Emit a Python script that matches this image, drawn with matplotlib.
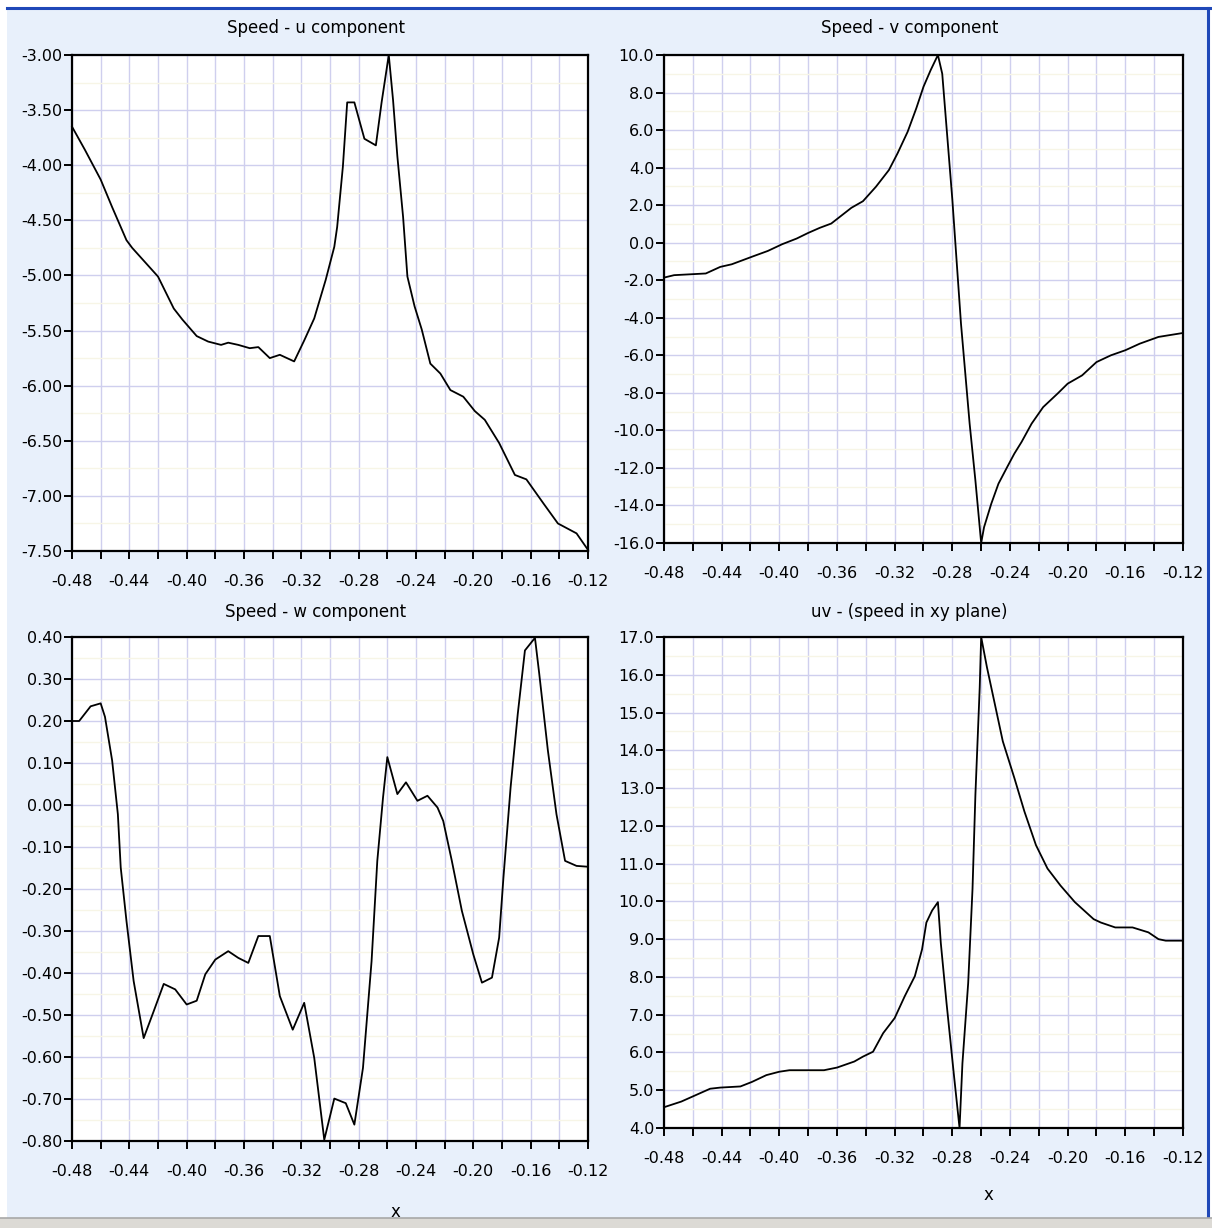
import matplotlib
matplotlib.use("Agg")
import matplotlib.pyplot as plt
from matplotlib.ticker import FixedLocator, FormatStrFormatter
from matplotlib.patches import Rectangle
from matplotlib.lines import Line2D

# ---- data ----
x_ticks = [-0.48, -0.44, -0.40, -0.36, -0.32, -0.28, -0.24, -0.20, -0.16, -0.12]
x_minor = [-0.46, -0.42, -0.38, -0.34, -0.30, -0.26, -0.22, -0.18, -0.14]

x_u = [-0.480, -0.471, -0.460, -0.452, -0.442, -0.438, -0.429, -0.420, -0.409, -0.403,
       -0.393, -0.385, -0.376, -0.371, -0.364, -0.356, -0.350, -0.342, -0.335, -0.325,
       -0.318, -0.311, -0.303, -0.297, -0.295, -0.291, -0.288, -0.283, -0.276, -0.268,
       -0.264, -0.259, -0.256, -0.253, -0.249, -0.246, -0.241, -0.236, -0.230, -0.223,
       -0.216, -0.207, -0.199, -0.192, -0.182, -0.171, -0.163, -0.151, -0.141, -0.128,
       -0.120]
u_vals = [-3.65, -3.86, -4.13, -4.38, -4.68, -4.75, -4.88, -5.01, -5.30, -5.40,
          -5.55, -5.60, -5.63, -5.61, -5.63, -5.66, -5.65, -5.75, -5.72, -5.78,
          -5.59, -5.39, -5.04, -4.74, -4.56, -4.01, -3.43, -3.43, -3.76, -3.82,
          -3.43, -3.00, -3.41, -3.92, -4.47, -5.01, -5.28, -5.49, -5.80, -5.89,
          -6.04, -6.10, -6.23, -6.31, -6.52, -6.81, -6.85, -7.07, -7.25, -7.34,
          -7.49]

x_v = [-0.480, -0.473, -0.451, -0.441, -0.433, -0.418, -0.408, -0.398, -0.388, -0.380,
       -0.372, -0.364, -0.358, -0.350, -0.342, -0.333, -0.324, -0.318, -0.311, -0.305,
       -0.300, -0.295, -0.290, -0.287, -0.280, -0.274, -0.268, -0.264, -0.260, -0.258,
       -0.253, -0.248, -0.242, -0.237, -0.232, -0.225, -0.217, -0.207, -0.200, -0.190,
       -0.180, -0.170, -0.160, -0.150, -0.137, -0.120]
v_vals = [-1.86, -1.73, -1.64, -1.29, -1.15, -0.72, -0.44, -0.08, 0.22, 0.52,
          0.79, 1.02, 1.38, 1.86, 2.21, 2.98, 3.87, 4.76, 5.91, 7.16,
          8.31, 9.20, 10.00, 9.00, 2.30, -4.31, -9.64, -12.67, -16.00, -15.16,
          -13.91, -12.84, -11.96, -11.24, -10.62, -9.64, -8.76, -8.04, -7.51, -7.07,
          -6.36, -6.00, -5.73, -5.38, -5.02, -4.81]

x_w = [-0.480, -0.475, -0.467, -0.460, -0.457, -0.452, -0.448, -0.446, -0.442, -0.437,
       -0.430, -0.423, -0.416, -0.408, -0.400, -0.393, -0.387, -0.380, -0.371, -0.364,
       -0.357, -0.350, -0.342, -0.335, -0.326, -0.318, -0.311, -0.304, -0.297, -0.289,
       -0.283, -0.277, -0.271, -0.267, -0.263, -0.260, -0.253, -0.247, -0.239, -0.232,
       -0.225, -0.221, -0.215, -0.208, -0.200, -0.194, -0.187, -0.182, -0.179, -0.174,
       -0.169, -0.164, -0.157, -0.154, -0.148, -0.142, -0.136, -0.128, -0.120]
w_vals = [0.200, 0.200, 0.235, 0.242, 0.210, 0.106, -0.022, -0.149, -0.276, -0.419,
          -0.555, -0.491, -0.426, -0.439, -0.475, -0.466, -0.403, -0.368, -0.348, -0.364,
          -0.376, -0.312, -0.312, -0.455, -0.535, -0.471, -0.602, -0.797, -0.699, -0.710,
          -0.761, -0.626, -0.372, -0.133, 0.018, 0.114, 0.026, 0.054, 0.010, 0.022,
          -0.006, -0.038, -0.133, -0.252, -0.356, -0.423, -0.411, -0.316, -0.173, 0.042,
          0.217, 0.368, 0.398, 0.312, 0.130, -0.022, -0.133, -0.145, -0.147]

x_uv = [-0.480, -0.468, -0.458, -0.448, -0.441, -0.427, -0.419, -0.409, -0.400, -0.393,
        -0.369, -0.360, -0.348, -0.342, -0.335, -0.328, -0.320, -0.313, -0.306, -0.301,
        -0.298, -0.294, -0.290, -0.288, -0.284, -0.279, -0.275, -0.273, -0.269, -0.266,
        -0.264, -0.261, -0.260, -0.256, -0.251, -0.245, -0.237, -0.230, -0.222, -0.214,
        -0.205, -0.195, -0.182, -0.177, -0.167, -0.155, -0.144, -0.137, -0.132, -0.120]
uv_vals = [4.55, 4.70, 4.87, 5.04, 5.07, 5.10, 5.22, 5.40, 5.49, 5.53,
           5.53, 5.60, 5.76, 5.89, 6.02, 6.51, 6.91, 7.49, 8.02, 8.73,
           9.44, 9.76, 9.98, 8.90, 7.30, 5.44, 4.00, 5.71, 7.84, 10.33,
           12.82, 15.67, 17.00, 16.20, 15.31, 14.24, 13.27, 12.38, 11.49, 10.87,
           10.42, 9.98, 9.53, 9.44, 9.31, 9.31, 9.18, 9.00, 8.96, 8.96]

u_ticks = [-7.5, -7.0, -6.5, -6.0, -5.5, -5.0, -4.5, -4.0, -3.5, -3.0]
v_ticks = [-16, -14, -12, -10, -8, -6, -4, -2, 0, 2, 4, 6, 8, 10]
w_ticks = [-0.8, -0.7, -0.6, -0.5, -0.4, -0.3, -0.2, -0.1, 0.0, 0.1, 0.2, 0.3, 0.4]
uv_ticks = [4, 5, 6, 7, 8, 9, 10, 11, 12, 13, 14, 15, 16, 17]

titles = ["Speed - u component", "Speed - v component",
          "Speed - w component", "uv - (speed in xy plane)"]

# ---- layout in pixels (left, top, right, bottom) ----
W, H = 1212, 1228
BG = "#e8f0fb"
GRID = "#cfcfee"
FS = 11.5
TFS = 12

panels = [
    (x_u, u_vals, u_ticks, "%.2f", titles[0], (72, 55, 588, 551), False),
    (x_v, v_vals, v_ticks, "%.1f", titles[1], (664, 55, 1183, 543), False),
    (x_w, w_vals, w_ticks, "%.2f", titles[2], (72, 637, 588, 1141), True),
    (x_uv, uv_vals, uv_ticks, "%.1f", titles[3], (664, 637, 1183, 1128), True),
]

fig = plt.figure(figsize=(W / 100, H / 100), dpi=100)
fig.patch.set_facecolor("white")

# window background, border and status strip
fig.add_artist(Rectangle((7 / W, 1 - 1218 / H), 1201 / W, 1209 / H,
                         transform=fig.transFigure, facecolor=BG, edgecolor="none", zorder=0))
fig.add_artist(Line2D([7 / W, 1210 / W], [1 - 8 / H, 1 - 8 / H], transform=fig.transFigure,
                      color="#1f48b8", lw=2.2, zorder=1))
fig.add_artist(Line2D([1208 / W, 1208 / W], [1 - 8 / H, 1 - 1218 / H], transform=fig.transFigure,
                      color="#1f48b8", lw=2.2, zorder=1))
fig.add_artist(Rectangle((0, 0), 1, 10 / H, transform=fig.transFigure,
                         facecolor="#dcdad5", edgecolor="none", zorder=1))
fig.add_artist(Line2D([0, 1], [10 / H, 10 / H], transform=fig.transFigure,
                      color="#a8a8a8", lw=1.2, zorder=1))

for xs, ys, yt, fmt, title, (l, t, r, b), has_xlabel in panels:
    ax = fig.add_axes([l / W, 1 - b / H, (r - l) / W, (b - t) / H])
    ax.set_facecolor("white")
    ax.plot(xs, ys, color="black", lw=1.3, clip_on=False, zorder=3)

    ax.set_xlim(-0.48, -0.12)
    ax.set_ylim(yt[0], yt[-1])

    ax.xaxis.set_major_locator(FixedLocator(x_ticks))
    ax.xaxis.set_minor_locator(FixedLocator(x_minor))
    ax.xaxis.set_major_formatter(FormatStrFormatter("%.2f"))
    ax.yaxis.set_major_locator(FixedLocator(yt))
    ax.yaxis.set_major_formatter(FormatStrFormatter(fmt))
    half = [(a + c) / 2 for a, c in zip(yt[:-1], yt[1:])]
    ax.yaxis.set_minor_locator(FixedLocator(half))

    ax.grid(True, which="both", axis="x", color=GRID, lw=1.0, zorder=0)
    ax.grid(True, which="major", axis="y", color=GRID, lw=1.0, zorder=0)
    ax.grid(True, which="minor", axis="y", color="#f7f5e6", lw=1.0, zorder=0)
    ax.set_axisbelow(True)

    ax.tick_params(axis="x", which="both", direction="out", length=5.5, width=1.4,
                   pad=11, labelsize=FS, colors="black")
    ax.tick_params(axis="y", which="major", direction="out", length=5.5, width=1.4,
                   pad=1.5, labelsize=FS, colors="black")
    ax.tick_params(axis="y", which="minor", length=0)
    for s in ax.spines.values():
        s.set_linewidth(1.6)
        s.set_color("black")

    h = b - t
    ax.text(0.5 - 14 / (r - l), 1 + (27 if t < 100 else 25) / h, title,
            transform=ax.transAxes, ha="center", va="center", fontsize=TFS)
    if has_xlabel:
        ax.text(0.5 + 65 / (r - l), -(67 if r > 600 else 71) / h, "x",
                transform=ax.transAxes, ha="center", va="center", fontsize=TFS)

fig.savefig("out.png", dpi=100, facecolor=fig.get_facecolor())
